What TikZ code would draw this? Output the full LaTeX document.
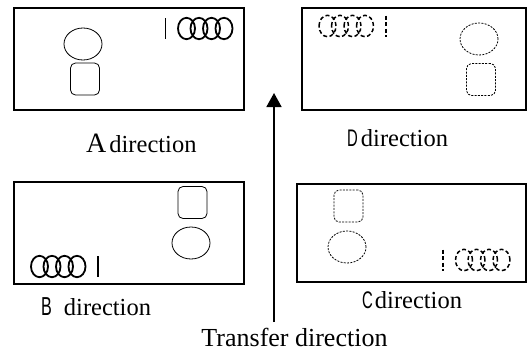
\documentclass[tikz,border=0pt]{standalone}
\usepackage{fontspec}
\setmainfont{Liberation Serif}
\newfontfamily\narrowsf[FakeStretch=0.62]{Liberation Sans}
\usetikzlibrary{shapes.geometric,arrows.meta}
\tikzset{
  panel/.style={draw, line width=1.2pt, inner sep=0pt, outer sep=0pt, anchor=north west, rectangle},
  oval/.style={ellipse, draw, line width=0.8pt, inner sep=0pt, minimum width=38pt, minimum height=32pt},
  rsq/.style={rectangle, draw, line width=0.8pt, rounded corners=5pt, inner sep=0pt, minimum width=29pt, minimum height=32pt},
  dotty/.style={dash pattern=on 2pt off 1.3pt},
  mk/.style={line width=1.8pt},
  mkdash/.style={line width=1.5pt, dash pattern=on 4pt off 2.5pt},
  lbl/.style={inner sep=0pt, anchor=base west, font=\fontsize{24.5}{24.5}\selectfont},
  marks/.pic={
    \draw (0,-10.5) -- (0,10.5);
    \foreach \cx in {21,33.5,46,58.5} {\draw (\cx,0) ellipse [x radius=8.5pt, y radius=10.7pt];}
  }
}
\begin{document}
\begin{tikzpicture}[x=1pt,y=-1pt]
\useasboundingbox (0,0) rectangle (527,351);
% panels
\node[panel, minimum width=230pt, minimum height=102pt] (boxA) at (14,8) {};
\node[panel, minimum width=224pt, minimum height=102pt] (boxD) at (302,8) {};
\node[panel, minimum width=230pt, minimum height=102pt] (boxB) at (14,182) {};
\node[panel, minimum width=229pt, minimum height=98pt] (boxC) at (297,184) {};
% A
\node[oval] (ovA) at (83,44) {};
\node[rsq] (sqA) at (85,79) {};
\pic[mk] at (165.5,28.5) {marks};
% D
\node[oval, dotty] (ovD) at (479,39) {};
\node[rsq, dotty] (sqD) at (481,79.5) {};
\pic[mkdash, xscale=-1] at (386,26) {marks};
% B
\node[rsq] (sqB) at (192.5,202.5) {};
\node[oval] (ovB) at (191,243) {};
\pic[mk, xscale=-1] at (98,266.5) {marks};
% C
\node[rsq, dotty] (sqC) at (348.5,206) {};
\node[oval, dotty] (ovC) at (347,247) {};
\pic[mkdash] at (443,260) {marks};
% labels
\node[lbl] (labA) at (86,152) {{\fontsize{28}{28}\selectfont A}\hspace{3pt}direction};
\node[lbl] (labD) at (347,146) {{\narrowsf\fontsize{24}{24}\selectfont D}\hspace{3pt}direction};
\node[lbl] (labB) at (41,315) {{\narrowsf\fontsize{26}{26}\selectfont B}\hspace{12pt}direction};
\node[lbl] (labC) at (362,308) {{\narrowsf\fontsize{24}{24}\selectfont C}\hspace{2pt}direction};
\node[inner sep=0pt, anchor=base, font=\fontsize{26}{26}\selectfont] (labT) at (294.5,346.5) {Transfer direction};
% arrow
\coordinate (tail) at (274,322);
\coordinate (tip) at (274,93);
\draw[line width=1.8pt, -{Triangle[width=15pt,length=14pt]}] (tail) -- (tip);
\end{tikzpicture}
\end{document}
